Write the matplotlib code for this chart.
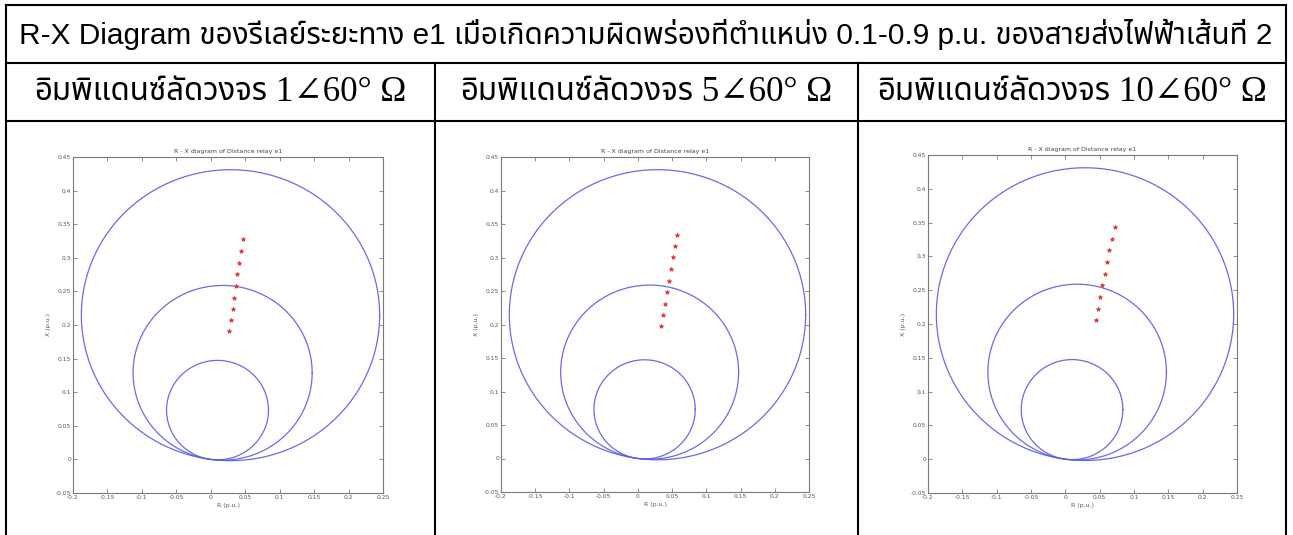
import numpy as np
import matplotlib
matplotlib.use("Agg")
import matplotlib.pyplot as plt
from matplotlib import font_manager
from matplotlib.lines import Line2D

# ---------------- data ----------------
header_text = ("R-X Diagram ของรีเลย์ระยะทาง e1 เมื่อเกิดความผิดพร่องที่ตำแหน่ง "
               "0.1-0.9 p.u. ของสายส่งไฟฟ้าเส้นที่ 2")
case_label_thai = "อิมพิแดนซ์ลัดวงจร"
case_impedance = ["1∠60° Ω", "5∠60° Ω", "10∠60° Ω"]

plot_title = "R - X diagram of Distance relay e1"
x_label = "R (p.u.)"
y_label = "X (p.u.)"

# mho zone reaches (p.u.) and relay characteristic angle (deg)
zone_reach = [0.148, 0.260, 0.433]
relay_angle_deg = 82.4

# apparent impedance seen by relay e1 for faults at 0.1 ... 0.9 p.u.
fault_R = [
    [0.0271, 0.0295, 0.0319, 0.0343, 0.0367, 0.0386, 0.0415, 0.0440, 0.0469],
    [0.0337, 0.0366, 0.0395, 0.0420, 0.0449, 0.0478, 0.0508, 0.0537, 0.0566],
    [0.0443, 0.0477, 0.0506, 0.0540, 0.0574, 0.0608, 0.0633, 0.0678, 0.0720],
]
fault_X = [
    [0.1904, 0.2072, 0.2240, 0.2409, 0.2582, 0.2755, 0.2923, 0.3096, 0.3274],
    [0.1975, 0.2149, 0.2313, 0.2478, 0.2652, 0.2821, 0.3005, 0.3174, 0.3343],
    [0.2053, 0.2226, 0.2399, 0.2577, 0.2745, 0.2918, 0.3096, 0.3264, 0.3437],
]

x_ticks = [-0.2, -0.15, -0.1, -0.05, 0, 0.05, 0.1, 0.15, 0.2, 0.25]
x_tick_labels = ["-0.2", "-0.15", "-0.1", "-0.05", "0", "0.05", "0.1", "0.15", "0.2", "0.25"]
y_ticks = [-0.05, 0, 0.05, 0.1, 0.15, 0.2, 0.25, 0.3, 0.35, 0.4, 0.45]
y_tick_labels = ["-0.05", "0", "0.05", "0.1", "0.15", "0.2", "0.25", "0.3", "0.35", "0.4", "0.45"]

# ---------------- fonts ----------------
installed = {f.name for f in font_manager.fontManager.ttflist}


def first_installed(candidates):
    for c in candidates:
        if c in installed:
            return [c]
    return []


thai_font = first_installed(["Noto Sans Thai", "Anuphan", "IBM Plex Sans Thai", "Sarabun", "Athiti"])
latin_font = first_installed(["Liberation Sans", "Roboto"])
serif_font = first_installed(["Liberation Serif"]) + ["DejaVu Serif"]

header_family = latin_font + thai_font + ["DejaVu Sans"]
thai_family = thai_font + ["DejaVu Sans"]

# ---------------- figure ----------------
W, H = 1293, 535
fig = plt.figure(figsize=(W / 100, H / 100), dpi=100)
fig.patch.set_facecolor("white")


def fx(px):
    return px / W


def fy(py):
    return 1 - py / H


# table grid
grid_kw = dict(color="black", linewidth=1.5, solid_capstyle="projecting")
left_x, right_x = 6, 1286
col_x = [435, 858]
top_y, head_y, sub_y = 5, 63, 121
for y in (top_y, head_y, sub_y):
    fig.add_artist(Line2D([fx(left_x), fx(right_x)], [fy(y), fy(y)], **grid_kw))
for x in (left_x, right_x):
    fig.add_artist(Line2D([fx(x), fx(x)], [fy(top_y), fy(H + 2)], **grid_kw))
for x in col_x:
    fig.add_artist(Line2D([fx(x), fx(x)], [fy(head_y), fy(H + 2)], **grid_kw))

renderer = fig.canvas.get_renderer()

# header text, sized to span the header cell
ht = fig.text(fx((left_x + right_x) / 2), fy(34), header_text, ha="center", va="center",
              family=header_family, fontsize=12)
w = ht.get_window_extent(renderer).width
ht.set_fontsize(12 * 1255 / w)

# column captions: Thai text followed by a serif impedance value
col_bounds = [(left_x, col_x[0]), (col_x[0], col_x[1]), (col_x[1], right_x)]
cap_size = 15
captions = []
for (a, b), imp in zip(col_bounds, case_impedance):
    t1 = fig.text(0, fy(92), case_label_thai, ha="left", va="center",
                  family=thai_family, fontsize=cap_size)
    t2 = fig.text(0, fy(92), " " + imp, ha="left", va="center",
                  family=serif_font, fontsize=cap_size * 1.12)
    captions.append((a, b, t1, t2))

# scale captions so the first one spans about 373 px
a, b, t1, t2 = captions[0]
w0 = t1.get_window_extent(renderer).width + t2.get_window_extent(renderer).width
k = 373 / w0
for a, b, t1, t2 in captions:
    t1.set_fontsize(t1.get_fontsize() * k)
    t2.set_fontsize(t2.get_fontsize() * k)
    w1 = t1.get_window_extent(renderer).width
    w2 = t2.get_window_extent(renderer).width
    x0 = (a + b) / 2 - (w1 + w2) / 2
    t1.set_x(fx(x0))
    t2.set_x(fx(x0 + w1))

# ---------------- R-X plots ----------------
axes_px = [(73, 157, 383, 493), (501, 157, 809, 492), (928, 155, 1237, 493)]
circle_color = "#5a5ae6"
grey = "#7a7a7a"
theta = np.linspace(0, 2 * np.pi, 721)
ang = np.deg2rad(relay_angle_deg)

for i, (l, t, r, b) in enumerate(axes_px):
    ax = fig.add_axes([fx(l), fy(b), fx(r - l), (b - t) / H])
    for reach in zone_reach:
        cx, cy = reach / 2 * np.cos(ang), reach / 2 * np.sin(ang)
        ax.plot(cx + reach / 2 * np.cos(theta), cy + reach / 2 * np.sin(theta),
                color=circle_color, linewidth=0.9, alpha=0.9)
    ax.plot(fault_R[i], fault_X[i], linestyle="none", marker="*", markersize=3.2,
            color="#e23a3a", markeredgewidth=0.6)
    ax.set_xlim(-0.2, 0.25)
    ax.set_ylim(-0.05, 0.45)
    ax.set_xticks(x_ticks)
    ax.set_xticklabels(x_tick_labels)
    ax.set_yticks(y_ticks)
    ax.set_yticklabels(y_tick_labels)
    ax.tick_params(direction="in", top=True, right=True, length=3, width=0.6,
                   color=grey, labelcolor="#555555", labelsize=4.3, pad=1.5)
    for s in ax.spines.values():
        s.set_color(grey)
        s.set_linewidth(0.8)
    ax.set_title(plot_title, fontsize=4.5, color="#444444", pad=3)
    ax.set_xlabel(x_label, fontsize=4.5, color="#555555", labelpad=2)
    ax.set_ylabel(y_label, fontsize=4.5, color="#555555", labelpad=3)

fig.savefig("out.png", dpi=100)
